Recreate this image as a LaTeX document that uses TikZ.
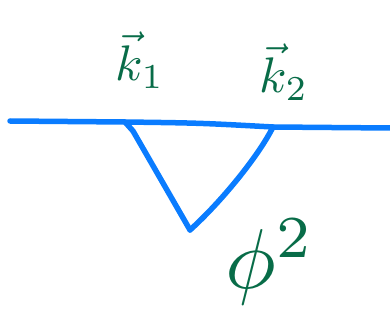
\documentclass[tikz,border=0pt]{standalone}
\usepackage{amsmath, amssymb}
\usetikzlibrary{positioning, calc}
\definecolor{penblue}{RGB}{10,124,255}
\definecolor{pengreen}{RGB}{8,108,72}

\begin{document}
\begin{tikzpicture}[
  x=1pt, y=-1pt,
  line/.style={draw=penblue, line width=5.5pt, line cap=round, line join=round},
  label/.style={text=pengreen, inner sep=0pt, transform shape}
]
\useasboundingbox (0,0) rectangle (390,320);

% Vertices
\coordinate (left) at (10,121);
\coordinate (v1) at (125,122);
\coordinate (v2) at (273,127);
\coordinate (right) at (390,128);
\coordinate (bottom) at (190,230);

% Lines
\draw[line] (left) -- (v1) .. controls (200,123) .. (v2) -- (right);
\draw[line] (v1) -- (133,131) -- (bottom);
\draw[line] (bottom) .. controls (220,203) and (258,157) .. (v2);

% Labels
\node[label, scale=5] (k1) at (140,60) {$\vec{k}_1$};
\node[label, scale=5] (k2) at (284,72) {$\vec{k}_2$};
\node[label, scale=8.5] (phi) at (270,262) {$\phi^2$};

\end{tikzpicture}
\end{document}
